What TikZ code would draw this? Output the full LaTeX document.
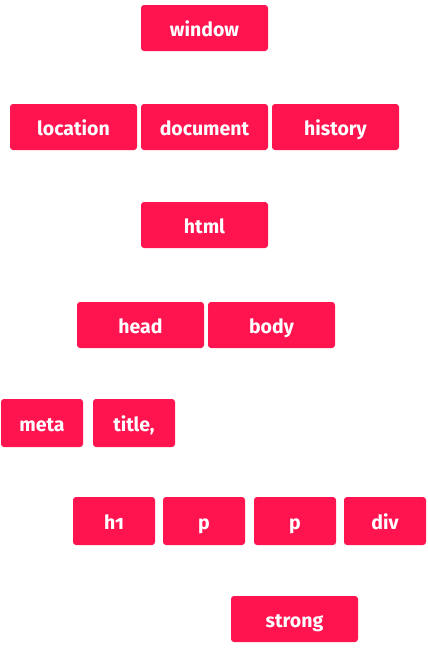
\documentclass[tikz,border=0pt]{standalone}
\usepackage{fontspec}
\setmainfont{Fira Sans}[Numbers=OldStyle]
\definecolor{tagred}{HTML}{FF1450}
\begin{document}
\begin{tikzpicture}[x=1pt,y=-1pt,
  tag/.style={fill=tagred, rounded corners=3pt, text=white,
    font=\bfseries\fontsize{19.5}{22}\selectfont, inner sep=0pt,
    minimum height=46pt, text height=16pt, text depth=0pt},
  wide/.style={tag, minimum width=127pt},
  narrow/.style={tag, minimum width=82pt}]
\useasboundingbox (0,0) rectangle (428,651);
% level 1
\node[wide] (window) at (204.5,28) {window};
% level 2
\node[wide] (location) at (73.5,127) {location};
\node[wide] (document) at (204.5,127) {document};
\node[wide] (history) at (335.5,127) {history};
% level 3
\node[wide] (html) at (204.5,225) {html};
% level 4
\node[wide] (head) at (140.5,325) {head};
\node[wide] (body) at (271.5,325) {body};
% level 5
\node[narrow, minimum height=48pt] (meta) at (42,423) {meta};
\node[narrow, minimum height=48pt] (title) at (134,423) {title,};
% level 6
\node[narrow, minimum height=48pt] (h1) at (114,521) {h1};
\node[narrow, minimum height=48pt] (p1) at (204,521) {p};
\node[narrow, minimum height=48pt] (p2) at (295,521) {p};
\node[narrow, minimum height=48pt] (div) at (385,521) {div};
% level 7
\node[wide] (strong) at (294.5,619) {strong};
\end{tikzpicture}
\end{document}
